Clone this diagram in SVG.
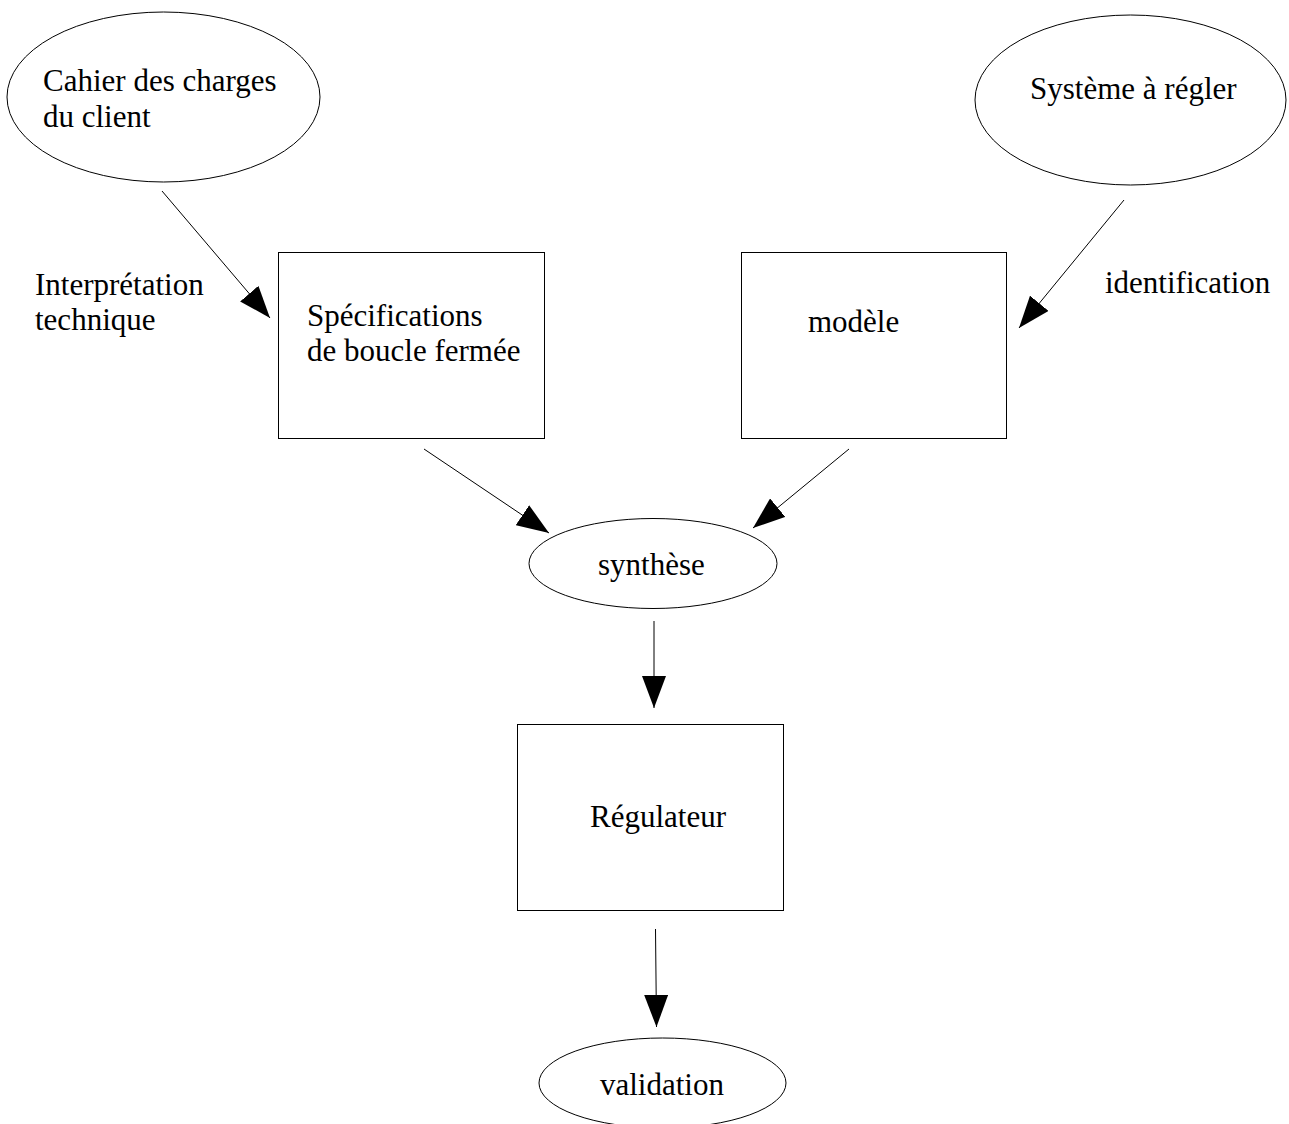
<svg xmlns="http://www.w3.org/2000/svg" width="1289" height="1124" viewBox="0 0 1289 1124">
<style>
.shape{fill:#fff;stroke:#000;stroke-width:1}
.lbl{font-family:"Liberation Serif","Times New Roman",serif;font-size:31px;fill:#000}
.conn{stroke:#000;stroke-width:1;fill:none;marker-end:url(#ah)}
</style>
<defs>
<marker id="ah" viewBox="0 0 32 24" refX="32" refY="12" markerWidth="32" markerHeight="24" markerUnits="userSpaceOnUse" orient="auto">
<path d="M0,0 L32,12 L0,24 z" fill="#000"/>
</marker>
</defs>
<rect width="1289" height="1124" fill="#fff"/>
<g id="connectors">
<line class="conn" x1="162" y1="191" x2="270" y2="318"/>
<line class="conn" x1="1124" y1="200" x2="1019" y2="328"/>
<line class="conn" x1="424" y1="449" x2="549" y2="533"/>
<line class="conn" x1="849" y1="449" x2="753" y2="528"/>
<line class="conn" x1="654" y1="621" x2="654" y2="708"/>
<line class="conn" x1="655.5" y1="929" x2="656.5" y2="1027"/>
</g>
<g id="cahier">
<ellipse class="shape" cx="163.5" cy="97" rx="156.5" ry="85"/>
<text class="lbl" x="43" y="91">Cahier des charges</text>
<text class="lbl" x="43" y="127">du client</text>
</g>
<g id="systeme">
<ellipse class="shape" cx="1130.5" cy="100" rx="155.5" ry="85"/>
<text class="lbl" x="1030" y="99">Système à régler</text>
</g>
<g id="label-interpretation">
<text class="lbl" x="35" y="295">Interprétation</text>
<text class="lbl" x="35" y="330">technique</text>
</g>
<g id="label-identification">
<text class="lbl" x="1105" y="293">identification</text>
</g>
<g id="specifications">
<rect class="shape" x="278.5" y="252.5" width="266" height="186"/>
<text class="lbl" x="307" y="326">Spécifications</text>
<text class="lbl" x="307" y="361">de boucle fermée</text>
</g>
<g id="modele">
<rect class="shape" x="741.5" y="252.5" width="265" height="186"/>
<text class="lbl" x="808" y="332">modèle</text>
</g>
<g id="synthese">
<ellipse class="shape" cx="653" cy="563.5" rx="124" ry="45"/>
<text class="lbl" x="598" y="575">synthèse</text>
</g>
<g id="regulateur">
<rect class="shape" x="517.5" y="724.5" width="266" height="186"/>
<text class="lbl" x="590" y="827">Régulateur</text>
</g>
<g id="validation">
<ellipse class="shape" cx="662.5" cy="1083" rx="123.5" ry="45"/>
<text class="lbl" x="600" y="1095">validation</text>
</g>
</svg>
